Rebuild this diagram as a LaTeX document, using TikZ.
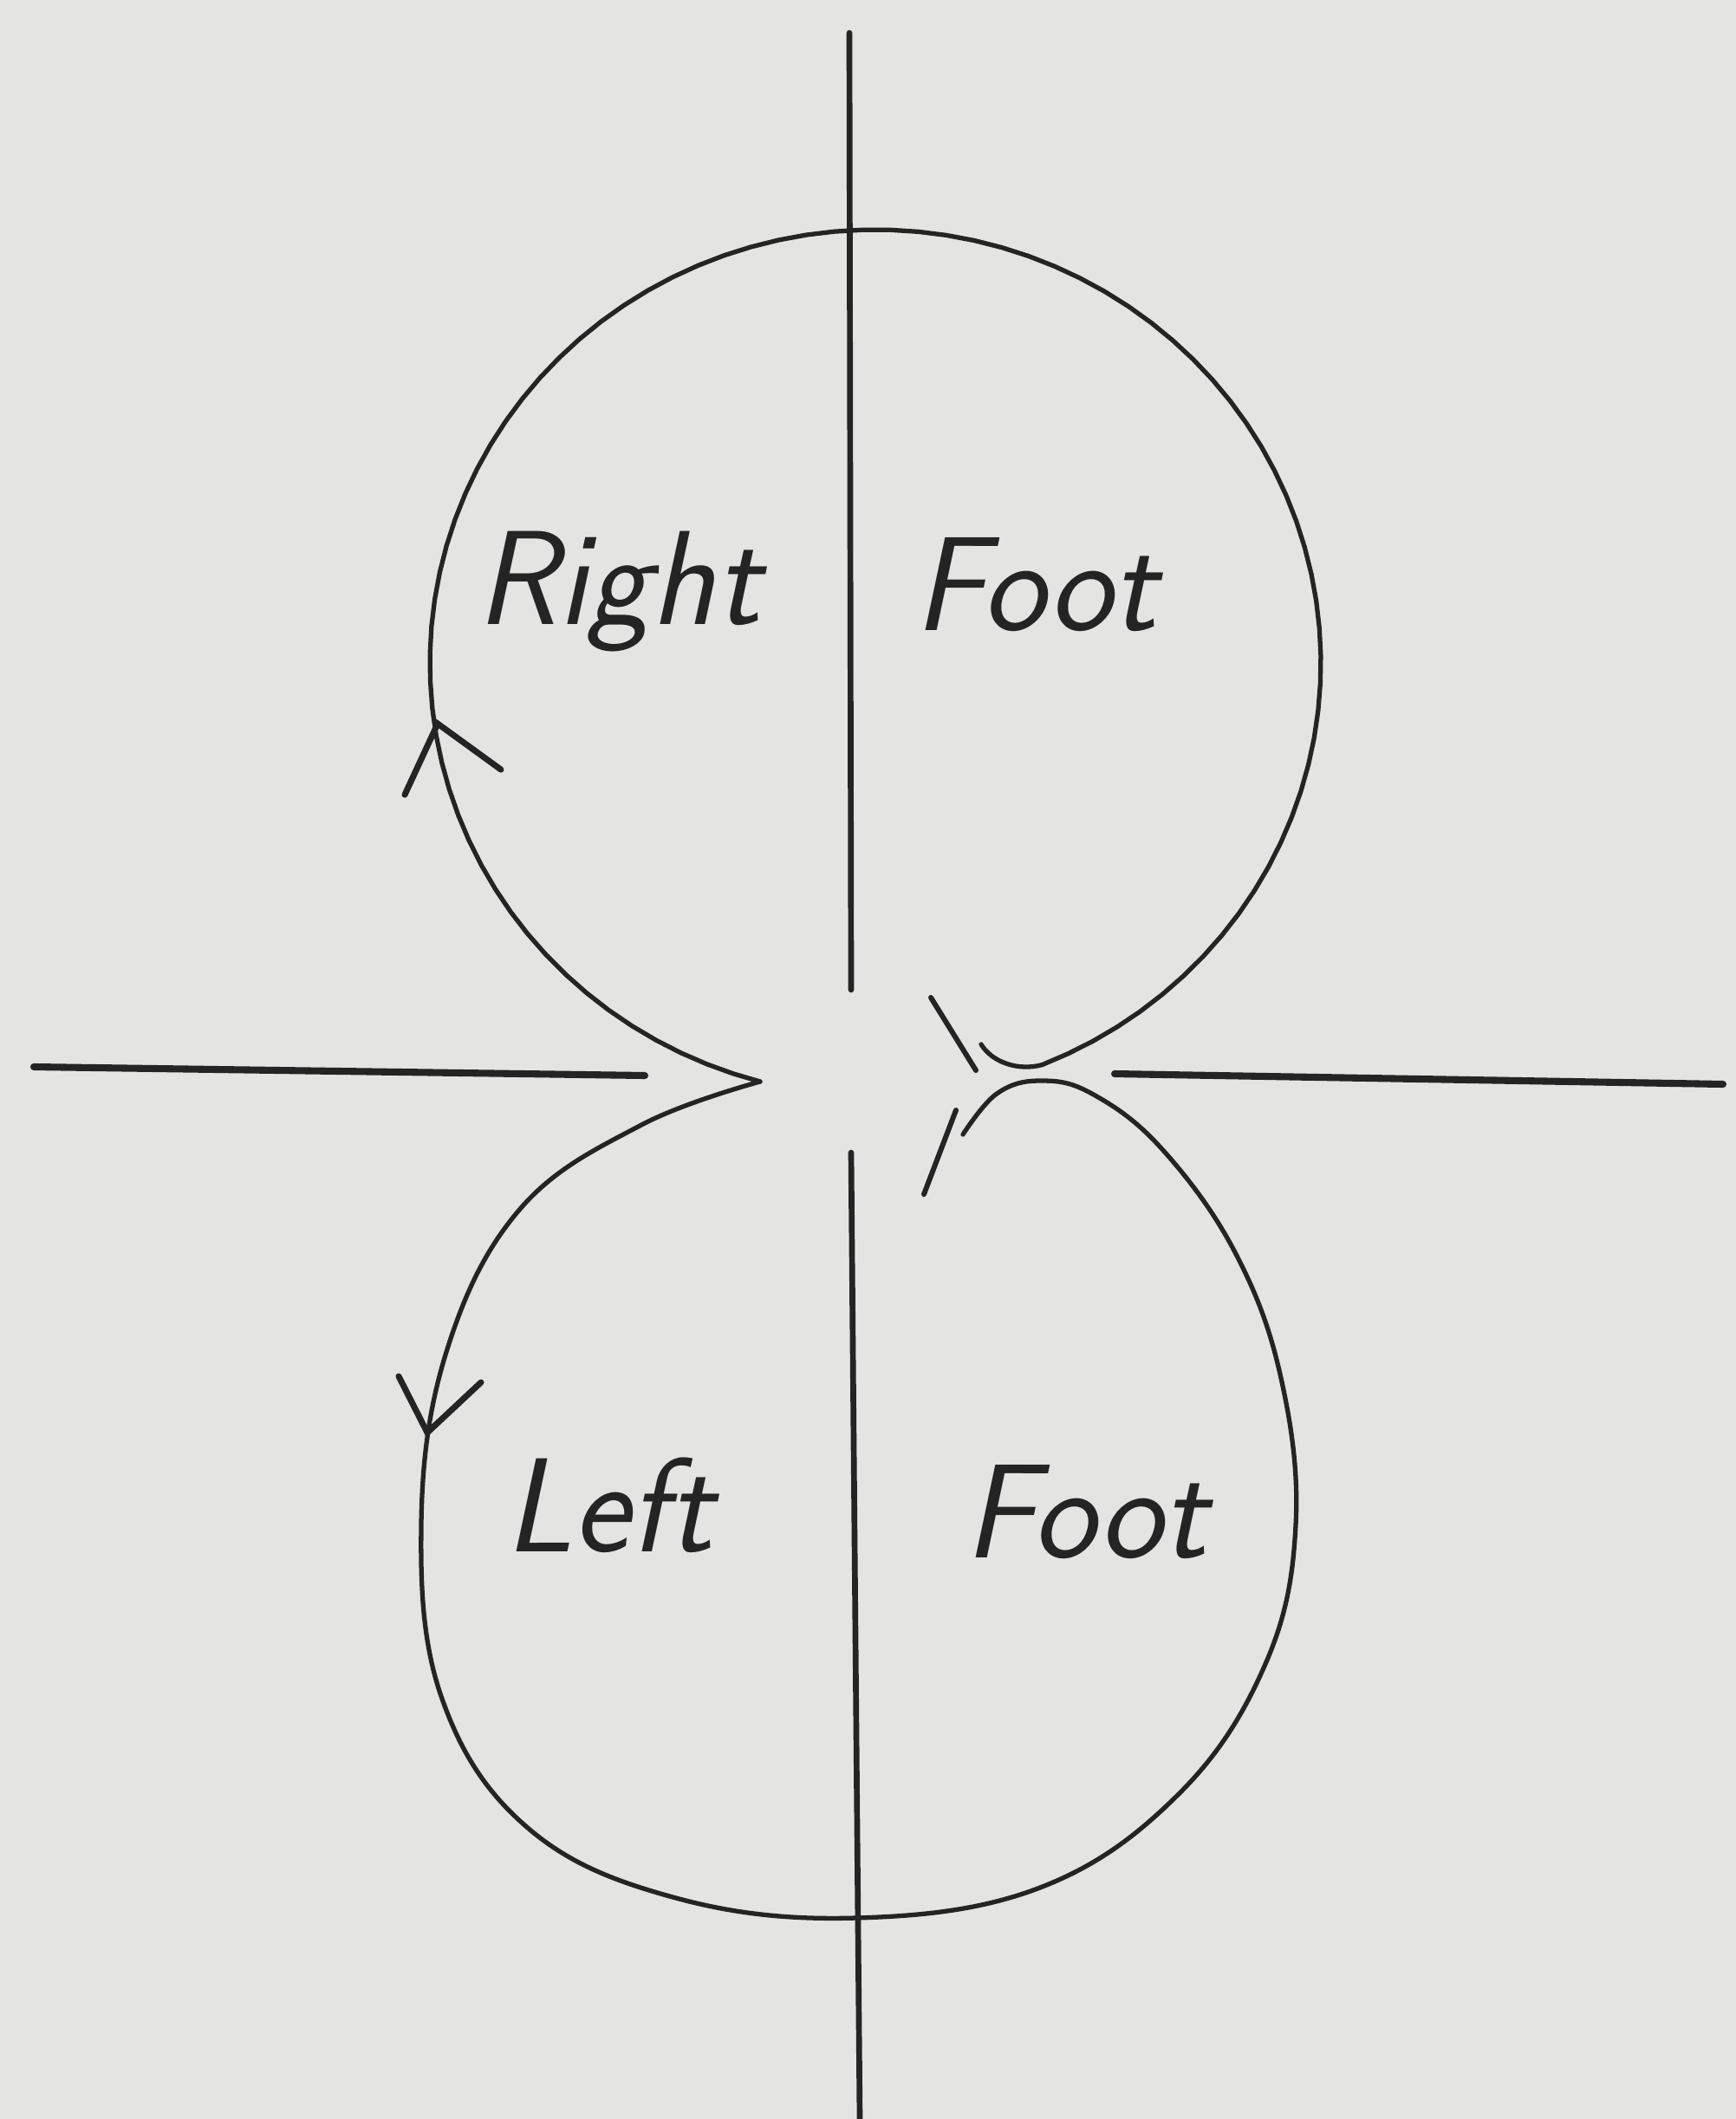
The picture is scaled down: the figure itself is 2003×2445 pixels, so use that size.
\documentclass[tikz,border=0pt]{standalone}
\usepackage{tikz}
\definecolor{paper}{RGB}{228,228,226}
\definecolor{ink}{RGB}{36,36,36}

\begin{document}
\begin{tikzpicture}[
    x=0.01cm, y=-0.01cm,
    axis/.style={draw=ink, line width=1.9pt, line cap=round},
    loopline/.style={draw=ink, line width=1.5pt, line cap=round, line join=round},
    barb/.style={draw=ink, line width=2pt, line cap=round},
    hand/.style={text=ink, inner sep=0pt, anchor=base west,
        font=\fontsize{44}{44}\selectfont\sffamily\slshape},
]

% ---------- Paper ----------
\fill[paper] (0,0) rectangle (2003,2445);
\useasboundingbox (0,0) rectangle (2003,2445);

% ---------- Axes ----------
\coordinate (vtop) at (980,38);
\coordinate (vgapA) at (982,1142);
\coordinate (vgapB) at (982,1330);
\coordinate (vbot) at (992,2445);
\coordinate (hleft) at (39,1231);
\coordinate (hgapA) at (744,1241);
\coordinate (hgapB) at (1286,1239);
\coordinate (hright) at (1988,1251);

\draw[axis] (vtop) -- (vgapA);
\draw[axis] (vgapB) -- (vbot);
\draw[axis, line width=2.3pt] (hleft) -- (hgapA);
\draw[axis, line width=2.3pt] (hgapB) -- (hright);

% ---------- Right foot loop ----------
\coordinate (cusp) at (877,1248);
\draw[loopline] plot[domain=-255:68, samples=90, variable=\t]
        ({1010+514*cos(\t)}, {765+500*sin(\t)})
    .. controls (1175,1236) and (1145,1226) .. (1132,1205);

% ---------- Left foot loop ----------
\draw[loopline] plot[smooth, tension=0.65] coordinates {
    (1111,1309) (1150,1262) (1200,1247) (1260,1262) (1340,1325)
    (1425,1445) (1478,1590) (1495,1760) (1460,1920) (1360,2070)
    (1200,2178) (988,2213) (780,2190) (610,2110) (510,1960)
    (486,1760) (515,1560) (600,1395) (740,1298) (cusp)};

% ---------- Crossing strokes ----------
\draw[barb, line width=1.7pt] (1074,1151) -- (1126,1235);
\draw[barb, line width=1.7pt] (1103,1281) -- (1066,1378);

% ---------- Direction marks ----------
\coordinate (uptip) at (505,835);
\draw[barb] (467,917) -- (uptip) -- (578,888);
\coordinate (downtip) at (493,1653);
\draw[barb] (460,1588) -- (downtip) -- (555,1595);

% ---------- Labels ----------
\node[hand] (rightlbl) at (549,720) {Right};
\node[hand] (rfootlbl) at (1054,727) {Foot};
\node[hand] (leftlbl) at (582,1790) {Left};
\node[hand] (lfootlbl) at (1112,1797) {Foot};

\end{tikzpicture}
\end{document}
